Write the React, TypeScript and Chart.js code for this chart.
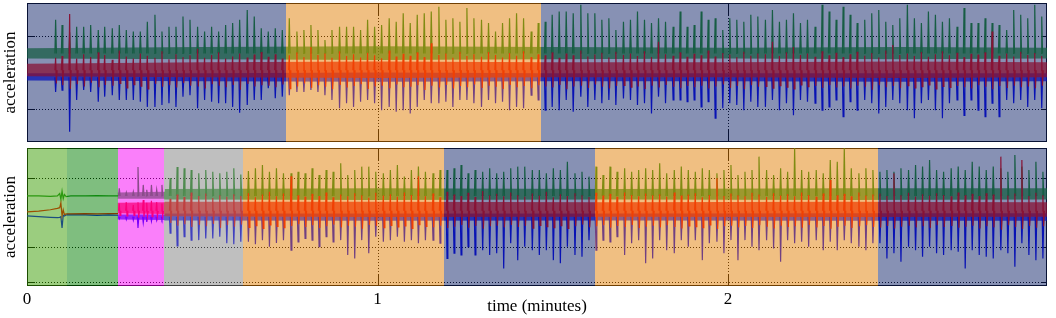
import { useEffect, useRef } from "react";
import { Chart, registerables } from "chart.js";

Chart.register(...registerables);

// ---------- axes ----------
const X_MAX_SECONDS = 174.6;
const xTickSeconds = [0, 60, 120];
const xTickLabels = ["0", "1", "2"];
const topYRange = [-190, 190];
const bottomYRange = [-213, 187];
const topGridValues = [100, -100];
const bottomGridValues = [100, -100, -200];

// ---------- activity regions (seconds) ----------
const topRegionBounds = [0, 44.34, 87.99, 174.6];
const topRegionKinds = ["blue", "orange", "blue"];
const bottomRegionBounds = [0, 6.8, 15.53, 23.5, 37.03, 71.43, 97.23, 145.73, 174.6];
const bottomRegionKinds = ["lightgreen", "green", "magenta", "gray", "orange", "blue", "orange", "blue"];

const REGION_COLORS: Record<string, string> = {
  blue: "rgba(15,35,105,0.5)",
  orange: "rgba(225,128,5,0.5)",
  lightgreen: "rgba(55,155,0,0.5)",
  green: "rgba(0,125,0,0.5)",
  magenta: "rgba(245,0,245,0.5)",
  gray: "rgba(128,128,128,0.5)",
};
const LINE_RGB: Record<string, string> = {
  green: "30,150,30",
  red: "255,0,0",
  blue: "0,0,255",
};

// ---------- top panel: step times (s) and spike values ----------
const topTimes = [
  4.9, 6.0, 7.3, 8.5, 9.7, 10.9, 12.2, 13.3, 14.6, 15.8,
  17.0, 18.2, 19.4, 20.6, 21.9, 23.1, 24.3, 25.5, 26.7, 27.9,
  29.2, 30.4, 31.6, 32.8, 34.0, 35.2, 36.4, 37.7, 38.9, 40.1,
  41.3, 42.5, 43.7, 44.9, 46.2, 47.4, 48.6, 49.8, 51.0, 52.2,
  53.5, 54.7, 55.9, 57.1, 58.3, 59.5, 60.7, 62.0, 63.2, 64.4,
  65.6, 66.8, 68.0, 69.2, 70.5, 71.7, 72.9, 74.1, 75.3, 76.5,
  77.8, 79.0, 80.2, 81.4, 82.6, 83.8, 85.0, 86.3, 87.5, 88.7,
  89.9, 91.1, 92.3, 93.5, 94.8, 96.0, 97.2, 98.4, 99.6, 100.8,
  102.1, 103.3, 104.5, 105.7, 106.9, 108.1, 109.3, 110.6, 111.8, 113.0,
  114.2, 115.4, 116.6, 117.8, 119.1, 120.3, 121.5, 122.7, 123.9, 125.1,
  126.4, 127.6, 128.8, 130.0, 131.2, 132.4, 133.6, 134.9, 136.1, 137.3,
  138.5, 139.7, 140.9, 142.1, 143.4, 144.6, 145.8, 147.0, 148.2, 149.4,
  150.7, 151.9, 153.1, 154.3, 155.5, 156.7, 157.9, 159.2, 160.4, 161.6,
  162.8, 164.0, 165.2, 166.4, 167.7, 168.9, 170.1, 171.3, 172.5, 173.7,
];
const topGreen = [
  144, 130, 110, 125, 125, 130, 116, 125, 121, 130,
  116, 112, 112, 139, 158, 112, 125, 125, 153, 144,
  125, 112, 125, 112, 130, 135, 144, 171, 153, 121,
  112, 121, 116, 148, 112, 116, 130, 116, 89, 116,
  125, 125, 125, 116, 144, 125, 130, 148, 139, 162,
  135, 158, 162, 167, 180, 144, 148, 139, 176, 148,
  144, 135, 112, 135, 148, 162, 148, 112, 135, 139,
  158, 167, 167, 162, 185, 162, 162, 144, 148, 116,
  139, 144, 167, 144, 135, 148, 139, 125, 167, 125,
  130, 167, 144, 148, 116, 148, 144, 139, 158, 153,
  144, 171, 139, 144, 162, 135, 144, 125, 185, 167,
  144, 180, 158, 135, 144, 162, 171, 139, 130, 148,
  185, 148, 135, 167, 158, 139, 148, 125, 176, 135,
  135, 148, 135, 130, 116, 171, 158, 148, 185, 153,
];
const topBlue = [
  -53, -48, -162, -75, -48, -53, -80, -66, -62, -75,
  -75, -75, -80, -94, -94, -89, -84, -94, -66, -62,
  -98, -75, -80, -84, -84, -94, -110, -89, -75, -75,
  -43, -70, -66, -62, -53, -53, -48, -53, -62, -75,
  -98, -84, -94, -80, -75, -84, -103, -94, -107, -103,
  -112, -94, -75, -84, -84, -80, -94, -75, -75, -84,
  -94, -75, -84, -80, -103, -94, -98, -62, -75, -103,
  -94, -103, -75, -107, -66, -94, -75, -84, -75, -89,
  -71, -75, -89, -84, -112, -66, -84, -75, -75, -80,
  -75, -94, -80, -125, -98, -84, -89, -103, -80, -94,
  -94, -75, -103, -84, -117, -75, -80, -84, -103, -94,
  -75, -121, -80, -103, -75, -84, -112, -94, -75, -84,
  -103, -125, -84, -75, -103, -125, -84, -75, -117, -75,
  -103, -121, -84, -121, -75, -84, -75, -94, -75, -98,
];
const topRed = [
  40, 45, 160, 38, 50, 42, 55, 48, 35, 60,
  44, 38, 52, 46, 40, 58, 36, 50, 42, 47,
  65, 40, 48, 55, 38, 44, 52, 41, 49, 56,
  43, 50, 38, 47, 55, 42, 70, 48, 52, 40,
  58, 45, 50, 41, 54, 47, 39, 60, 44, 51,
  46, 55, 42, 80, 48, 52, 40, 57, 45, 50,
  43, 56, 48, 41, 53, 46, 58, 42, 50, 47,
  55, 40, 52, 47, 60, 44, 49, 54, 41, 57,
  48, 52, 45, 58, 42, 84, 50, 46, 55, 43,
  51, 47, 60, 44, 53, 49, 42, 57, 46, 52,
  50, 84, 45, 55, 70, 48, 52, 43, 58, 47,
  54, 42, 50, 57, 46, 53, 41, 60, 75, 48,
  52, 45, 56, 43, 50, 58, 47, 54, 42, 51,
  49, 55, 112, 46, 52, 44, 57, 48, 53, 45,
];
const topRedLow = [
  -30, -35, -45, -32, -38, -28, -40, -34, -36, -30,
  -42, -33, -37, -45, -31, -39, -35, -41, -29, -36,
  -38, -44, -32, -36, -40, -34, -47, -31, -38, -35,
  -36, -40, -33, -44, -38, -30, -42, -35, -39, -46,
  -34, -41, -37, -32, -45, -38, -36, -43, -33, -40,
  -39, -35, -48, -36, -41, -34, -44, -37, -40, -33,
  -42, -36, -39, -45, -34, -40, -37, -43, -35, -38,
  -41, -34, -46, -38, -36, -42, -33, -39, -44, -37,
  -35, -40, -38, -45, -36, -41, -34, -39, -43, -37,
  -40, -36, -44, -38, -33, -42, -37, -46, -35, -39,
  -38, -43, -36, -40, -45, -34, -39, -37, -42, -35,
  -41, -38, -44, -36, -39, -47, -35, -40, -37, -43,
  -36, -42, -39, -34, -45, -38, -41, -37, -40, -44,
  -35, -39, -46, -37, -42, -36, -40, -38, -43, -36,
];
const topBases = { green: 52, red: 6, blue: -13 };
const topBandTimes = [0, 30, 60, 90, 120, 150, 174.6];
const topGreenHi = [66, 70, 72, 70, 68, 70, 68];
const topGreenLo = [38, 36, 34, 36, 38, 36, 38];
const topRedHi = [24, 28, 30, 28, 28, 30, 28];
const topRedLo = [-10, -13, -15, -13, -13, -15, -13];
const topBlueHi = [-2, -2, 0, -2, -2, -2, -2];
const topBlueLo = [-22, -24, -25, -24, -24, -25, -24];

// ---------- bottom panel ----------
const bottomTimes = [
  15.8, 17.0, 18.2, 19.0, 19.9, 20.5, 21.3, 22.2, 23.1,
  24.5, 25.7, 26.9, 28.1, 29.4, 30.6, 31.8, 33.0, 34.2, 35.4,
  36.6, 37.9, 39.1, 40.3, 41.5, 42.7, 43.9, 45.2, 46.4, 47.6,
  48.8, 50.0, 51.2, 52.4, 53.7, 54.9, 56.1, 57.3, 58.5, 59.7,
  61.0, 62.2, 63.4, 64.6, 65.8, 67.0, 68.2, 69.5, 70.7, 71.9,
  73.1, 74.3, 75.5, 76.7, 78.0, 79.2, 80.4, 81.6, 82.8, 84.0,
  85.2, 86.5, 87.7, 88.9, 90.1, 91.3, 92.5, 93.8, 95.0, 96.2,
  97.4, 98.6, 99.8, 101.0, 102.3, 103.5, 104.7, 105.9, 107.1, 108.3,
  109.5, 110.8, 112.0, 113.2, 114.4, 115.6, 116.8, 118.1, 119.3, 120.5,
  121.7, 122.9, 124.1, 125.3, 126.6, 127.8, 129.0, 130.2, 131.4, 132.6,
  133.8, 135.1, 136.3, 137.5, 138.7, 139.9, 141.1, 142.4, 143.6, 144.8,
  146.0, 147.2, 148.4, 149.6, 150.9, 152.1, 153.3, 154.5, 155.7, 156.9,
  158.2, 159.4, 160.6, 161.8, 163.0, 164.2, 165.4, 166.7, 167.9, 169.1,
  170.3, 171.5, 172.7, 173.9,
];
const bottomGreen = [
  70, 58, 60, 132, 80, 66, 80, 66, 80,
  100, 132, 128, 123, 114, 123, 118, 114, 118, 128,
  110, 120, 128, 138, 118, 128, 114, 114, 118, 114,
  128, 109, 123, 118, 143, 109, 123, 133, 133, 118,
  114, 123, 138, 104, 123, 133, 118, 114, 123, 123,
  128, 138, 114, 123, 118, 128, 114, 118, 128, 133,
  133, 123, 123, 114, 128, 123, 147, 114, 118, 104,
  133, 109, 133, 118, 128, 118, 123, 128, 123, 143,
  114, 123, 133, 123, 118, 128, 123, 114, 123, 138,
  109, 118, 123, 162, 123, 109, 128, 118, 186, 123,
  118, 123, 114, 152, 147, 186, 128, 114, 128, 123,
  118, 123, 118, 128, 123, 138, 133, 152, 123, 118,
  128, 133, 123, 147, 133, 123, 133, 128, 118, 167,
  133, 123, 147, 118,
];
const bottomBlue = [
  -18, -20, -22, -45, -30, -27, -25, -22, -20,
  -60, -97, -70, -80, -80, -75, -75, -70, -89, -92,
  -85, -85, -92, -80, -99, -88, -80, -109, -85, -75,
  -80, -99, -70, -85, -80, -123, -133, -80, -118, -70,
  -85, -80, -70, -85, -80, -89, -80, -80, -89, -133,
  -118, -123, -99, -123, -109, -123, -118, -162, -89, -138,
  -99, -109, -123, -109, -138, -147, -99, -123, -128, -80,
  -109, -80, -85, -70, -123, -89, -80, -147, -133, -80,
  -109, -118, -80, -99, -80, -138, -89, -85, -118, -80,
  -138, -80, -99, -109, -80, -104, -143, -80, -89, -85,
  -99, -80, -109, -85, -109, -80, -89, -99, -109, -89,
  -89, -133, -118, -143, -99, -109, -128, -99, -118, -123,
  -109, -114, -162, -109, -123, -128, -133, -109, -118, -157,
  -89, -123, -138, -133,
];
const bottomRed = [
  26, 30, 22, 30, 36, 28, 34, 30, 26,
  40, 52, 45, 58, 48, 55, 42, 50, 46, 53,
  48, 56, 44, 52, 60, 47, 55, 105, 50, 46,
  54, 48, 58, 44, 52, 47, 56, 50, 43, 57,
  49, 53, 46, 58, 51, 105, 47, 55, 44, 60,
  52, 48, 57, 45, 62, 50, 54, 47, 58, 51,
  46, 55, 49, 60, 44, 53, 48, 56, 50, 45,
  57, 49, 54, 46, 58, 51, 47, 55, 50, 53,
  46, 58, 49, 52, 56, 44, 51, 99, 48, 55,
  50, 47, 57, 52, 45, 56, 49, 53, 47, 58,
  51, 46, 55, 94, 50, 54, 47, 58, 49, 52,
  55, 48, 114, 50, 57, 46, 53, 49, 56, 51,
  47, 58, 50, 54, 48, 56, 52, 162, 49, 55,
  152, 48, 57, 50,
];
const bottomRedLow = [
  -8, -10, -8, -15, -12, -10, -12, -10, -8,
  -30, -38, -34, -42, -36, -40, -33, -45, -37, -41,
  -35, -43, -38, -46, -36, -40, -44, -39, -34, -42,
  -37, -45, -40, -35, -43, -38, -41, -47, -36, -39,
  -44, -37, -42, -39, -46, -35, -40, -43, -38, -45,
  -41, -36, -44, -39, -47, -40, -38, -43, -36, -42,
  -39, -45, -37, -41, -44, -38, -46, -40, -35, -43,
  -40, -37, -44, -39, -42, -36, -45, -41, -38, -43,
  -37, -42, -46, -39, -41, -44, -36, -48, -40, -38,
  -43, -39, -45, -37, -41, -46, -38, -42, -40, -44,
  -36, -43, -39, -47, -41, -38, -45, -40, -37, -42,
  -44, -39, -46, -41, -38, -43, -40, -45, -37, -42,
  -39, -44, -41, -38, -46, -40, -43, -50, -37, -42,
  -48, -39, -44, -40,
];
const bottomBases = { green: 48, red: 5, blue: -12 };
const bottomBandTimes = [15.5, 23.5, 23.6, 60, 100, 140, 174.6];
const bottomGreenHi = [58, 60, 68, 70, 68, 70, 70];
const bottomGreenLo = [40, 40, 38, 36, 38, 36, 38];
const bottomRedHi = [28, 30, 31, 31, 30, 31, 30];
const bottomRedLo = [-2, -4, -11, -13, -12, -13, -12];
const bottomBlueHi = [-6, -6, -3, -3, -3, -2, -2];
const bottomBlueLo = [-20, -22, -23, -24, -23, -24, -24];

// calm (standing) stretch at the start of the bottom recording
const calmTimes = [0, 2, 4, 5.2, 5.6, 5.8, 6.0, 6.2, 6.4, 6.7, 7.5, 10, 12, 14, 15.6];
const calmGreen = [48, 48, 47, 48, 55, 38, 62, 40, 52, 46, 48, 48, 49, 48, 48];
const calmRed = [2, 4, 8, 12, 14, 28, -10, 8, -6, -4, -4, -3, -4, -3, -3];
const calmBlue = [-10, -12, -14, -15, -14, -12, -45, -8, -10, -7, -7, -7, -8, -7, -8];

// ---------- helpers ----------
const FONT = "'Liberation Serif', 'Times New Roman', serif";

function spikePoints(times: number[], peaks: number[], lows: number[] | null, base: number) {
  const pts: { x: number; y: number | null }[] = [];
  for (let i = 0; i < times.length; i++) {
    const t = times[i];
    pts.push({ x: t - 0.12, y: base });
    pts.push({ x: t, y: peaks[i] });
    if (lows) pts.push({ x: t + 0.12, y: lows[i] });
    pts.push({ x: t + (lows ? 0.26 : 0.14), y: base });
    pts.push({ x: t + 0.3, y: null });
  }
  return pts;
}
function linePoints(times: number[], values: number[]) {
  return times.map((t, i) => ({ x: t, y: values[i] }));
}

function lineDs(points: any[], color: string, order: number) {
  return {
    data: points,
    borderColor: `rgb(${LINE_RGB[color]})`,
    borderWidth: 1.2,
    pointRadius: 0,
    fill: false,
    spanGaps: false,
    order,
  };
}
function bandDs(points: any[], color: string, order: number, fillTarget: number | false) {
  return {
    data: points,
    borderWidth: 0,
    borderColor: "rgba(0,0,0,0)",
    backgroundColor: `rgba(${LINE_RGB[color]},0.74)`,
    pointRadius: 0,
    fill: fillTarget === false ? false : fillTarget,
    order,
  };
}

function regionPlugin(bounds: number[], kinds: string[]) {
  return {
    id: "regions",
    afterDatasetsDraw(chart: any) {
      const { ctx, chartArea: a, scales } = chart;
      const x = scales.x;
      ctx.save();
      for (let i = 0; i < kinds.length; i++) {
        const x0 = Math.round(x.getPixelForValue(bounds[i]));
        const x1 = Math.round(x.getPixelForValue(bounds[i + 1]));
        ctx.fillStyle = REGION_COLORS[kinds[i]];
        ctx.fillRect(x0, a.top, x1 - x0, a.bottom - a.top);
      }
      ctx.restore();
    },
  };
}

function framePlugin(gridValues: number[]) {
  return {
    id: "frame",
    beforeDatasetsDraw(chart: any) {
      const { ctx, chartArea: a, scales } = chart;
      const x = scales.x;
      const y = scales.y;
      ctx.save();
      ctx.strokeStyle = "#000";
      ctx.lineWidth = 1;
      ctx.setLineDash([1, 2]);
      ctx.beginPath();
      for (const v of gridValues) {
        const py = Math.round(y.getPixelForValue(v)) + 0.5;
        ctx.moveTo(a.left, py);
        ctx.lineTo(a.right, py);
      }
      for (const v of xTickSeconds) {
        if (v <= 0) continue;
        const px = Math.round(x.getPixelForValue(v)) + 0.5;
        ctx.moveTo(px, a.top);
        ctx.lineTo(px, a.bottom);
      }
      ctx.stroke();
      ctx.setLineDash([]);
      ctx.beginPath();
      for (const v of gridValues) {
        const py = Math.round(y.getPixelForValue(v)) + 0.5;
        ctx.moveTo(a.left, py);
        ctx.lineTo(a.left + 8, py);
        ctx.moveTo(a.right - 5, py);
        ctx.lineTo(a.right, py);
      }
      for (const v of xTickSeconds) {
        if (v <= 0) continue;
        const px = Math.round(x.getPixelForValue(v)) + 0.5;
        ctx.moveTo(px, a.top);
        ctx.lineTo(px, a.top + 12);
        ctx.moveTo(px, a.bottom - 12);
        ctx.lineTo(px, a.bottom);
      }
      ctx.stroke();
      ctx.strokeRect(a.left + 0.5, a.top + 0.5, a.right - a.left - 1, a.bottom - a.top - 1);
      ctx.restore();
    },
  };
}

function baseOptions(yRange: number[], showX: boolean, padding: any) {
  const xScale: any = {
    type: "linear",
    min: 0,
    max: X_MAX_SECONDS,
    display: showX,
    grid: { display: false, drawTicks: false },
    border: { display: false },
    afterBuildTicks: (scale: any) => {
      scale.ticks = xTickSeconds.map((v) => ({ value: v }));
    },
    ticks: {
      autoSkip: false,
      maxRotation: 0,
      padding: 3,
      color: "#000",
      font: { family: FONT, size: 17 },
      callback: (v: number) => xTickLabels[xTickSeconds.indexOf(v)] ?? "",
    },
    title: {
      display: true,
      text: "time (minutes)",
      color: "#000",
      font: { family: FONT, size: 17 },
      padding: { top: 0, bottom: 1 },
    },
  };
  if (showX) {
    xScale.afterFit = (scale: any) => {
      scale.height = 32;
    };
  }
  return {
    animation: false as const,
    responsive: false,
    maintainAspectRatio: false,
    events: [] as any[],
    layout: { padding },
    plugins: { legend: { display: false }, tooltip: { enabled: false } },
    scales: {
      x: xScale,
      y: {
        type: "linear" as const,
        min: yRange[0],
        max: yRange[1],
        grid: { display: false, drawTicks: false },
        border: { display: false },
        ticks: { display: false },
        afterFit: (scale: any) => {
          scale.width = 27;
        },
        title: {
          display: true,
          text: "acceleration",
          color: "#000",
          font: { family: FONT, size: 17 },
          padding: { top: 0, bottom: 0 },
        },
      },
    },
  };
}

function panelDatasets(
  times: number[],
  green: number[],
  red: number[],
  redLow: number[],
  blue: number[],
  bases: { green: number; red: number; blue: number },
  bandTimes: number[],
  bands: number[][],
) {
  return [
    lineDs(spikePoints(times, red, redLow, bases.red), "red", 1),
    bandDs(linePoints(bandTimes, bands[2]), "red", 2, 2),
    bandDs(linePoints(bandTimes, bands[3]), "red", 2, false),
    lineDs(spikePoints(times, green, null, bases.green), "green", 3),
    bandDs(linePoints(bandTimes, bands[0]), "green", 4, 5),
    bandDs(linePoints(bandTimes, bands[1]), "green", 4, false),
    lineDs(spikePoints(times, blue, null, bases.blue), "blue", 5),
    bandDs(linePoints(bandTimes, bands[4]), "blue", 6, 8),
    bandDs(linePoints(bandTimes, bands[5]), "blue", 6, false),
  ];
}

export default function App() {
  const topRef = useRef<HTMLCanvasElement | null>(null);
  const bottomRef = useRef<HTMLCanvasElement | null>(null);

  useEffect(() => {
    if (!topRef.current || !bottomRef.current) return;

    const topChart = new Chart(topRef.current, {
      type: "line",
      data: {
        datasets: panelDatasets(topTimes, topGreen, topRed, topRedLow, topBlue, topBases, topBandTimes, [
          topGreenHi, topGreenLo, topRedHi, topRedLo, topBlueHi, topBlueLo,
        ]) as any,
      },
      options: baseOptions(topYRange, false, { left: 0, right: 9, top: 3, bottom: 4 }) as any,
      plugins: [framePlugin(topGridValues), regionPlugin(topRegionBounds, topRegionKinds)],
    });

    const bottomSets: any[] = panelDatasets(
      bottomTimes, bottomGreen, bottomRed, bottomRedLow, bottomBlue, bottomBases, bottomBandTimes,
      [bottomGreenHi, bottomGreenLo, bottomRedHi, bottomRedLo, bottomBlueHi, bottomBlueLo],
    );
    bottomSets.push(lineDs(linePoints(calmTimes, calmRed), "red", 1));
    bottomSets.push(lineDs(linePoints(calmTimes, calmGreen), "green", 3));
    bottomSets.push(lineDs(linePoints(calmTimes, calmBlue), "blue", 5));

    const bottomChart = new Chart(bottomRef.current, {
      type: "line",
      data: { datasets: bottomSets },
      options: baseOptions(bottomYRange, true, { left: 0, right: 9, top: 2, bottom: 0 }) as any,
      plugins: [framePlugin(bottomGridValues), regionPlugin(bottomRegionBounds, bottomRegionKinds)],
    });

    return () => {
      topChart.destroy();
      bottomChart.destroy();
    };
  }, []);

  return (
    <div style={{ position: "fixed", left: 0, top: 0, width: 1056, height: 318, background: "#fff" }}>
      <canvas
        ref={topRef}
        width={1056}
        height={146}
        style={{ position: "absolute", left: 0, top: 0, width: 1056, height: 146, display: "block" }}
      />
      <canvas
        ref={bottomRef}
        width={1056}
        height={172}
        style={{ position: "absolute", left: 0, top: 146, width: 1056, height: 172, display: "block" }}
      />
    </div>
  );
}
